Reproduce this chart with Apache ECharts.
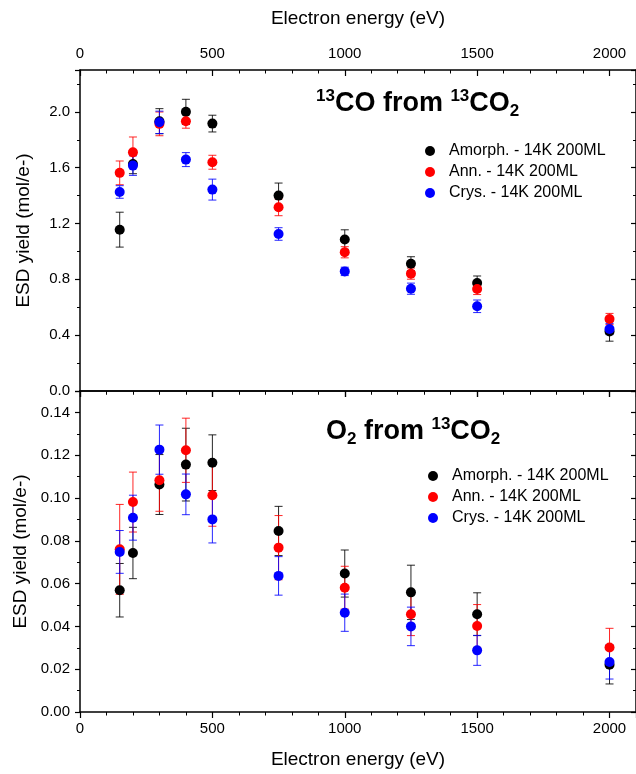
<!DOCTYPE html>
<html>
<head>
<meta charset="utf-8">
<script src="https://cdn.jsdelivr.net/npm/echarts@6/dist/echarts.min.js"></script>
<style>
  html, body { margin: 0; padding: 0; background: #fff; }
  #chart { width: 636px; height: 774px; }
</style>
</head>
<body>
<div id="chart"></div>
<script>
// Electron energies (eV)
const energies = [150, 200, 300, 400, 500, 750, 1000, 1250, 1500, 2000];

// 13CO from 13CO2 (mol/e-)
const coAmorph = [1.156, 1.627, 1.933, 2.0, 1.916, 1.40, 1.085, 0.912, 0.774, 0.427];
const coAmorphErr = [0.125, 0.07, 0.09, 0.09, 0.06, 0.09, 0.07, 0.05, 0.05, 0.07];
const coAnn = [1.563, 1.71, 1.914, 1.933, 1.639, 1.316, 0.994, 0.841, 0.731, 0.516];
const coAnnErr = [0.085, 0.11, 0.085, 0.05, 0.05, 0.06, 0.04, 0.04, 0.04, 0.04];
const coCrys = [1.426, 1.615, 1.925, 1.658, 1.443, 1.125, 0.857, 0.733, 0.607, 0.444];
const coCrysErr = [0.045, 0.07, 0.08, 0.05, 0.075, 0.045, 0.03, 0.04, 0.045, 0.04];

// O2 from 13CO2 (mol/e-)
const o2Amorph = [0.0569, 0.0743, 0.1063, 0.1156, 0.1165, 0.0846, 0.0647, 0.0559, 0.0457, 0.0221];
const o2AmorphErr = [0.0125, 0.012, 0.014, 0.017, 0.013, 0.0115, 0.011, 0.0127, 0.010, 0.009];
const o2Ann = [0.076, 0.0981, 0.1083, 0.1223, 0.1013, 0.0768, 0.0581, 0.0457, 0.0402, 0.0301];
const o2AnnErr = [0.021, 0.014, 0.0145, 0.015, 0.0145, 0.015, 0.010, 0.010, 0.010, 0.009];
const o2Crys = [0.0748, 0.0908, 0.1226, 0.1017, 0.090, 0.0636, 0.0464, 0.040, 0.0288, 0.0234];
const o2CrysErr = [0.01, 0.0105, 0.0115, 0.0095, 0.011, 0.009, 0.0087, 0.009, 0.007, 0.008];

const seriesNames = ['Amorph. - 14K 200ML', 'Ann. - 14K 200ML', 'Crys. - 14K 200ML'];
const seriesColors = ['#000000', '#ff0000', '#0000ff'];

const FONT = 'Liberation Sans, Arial, sans-serif';

const chart = echarts.init(document.getElementById('chart'));

function errorBars(gridIdx, vals, errs, color) {
    return {
        type: 'custom',
        name: 'err',
        xAxisIndex: gridIdx * 2,
        yAxisIndex: gridIdx * 2,
        z: 2,
        silent: true,
        data: energies.map((e, i) => [e, vals[i] - errs[i], vals[i] + errs[i]]),
        renderItem: (params, api) => {
            const lo = api.coord([api.value(0), api.value(1)]);
            const hi = api.coord([api.value(0), api.value(2)]);
            const w = 4;
            const style = { stroke: color, lineWidth: 1, opacity: 0.85 };
            return {
                type: 'group',
                children: [
                    { type: 'line', shape: { x1: lo[0], y1: lo[1], x2: hi[0], y2: hi[1] }, style },
                    { type: 'line', shape: { x1: lo[0] - w, y1: lo[1], x2: lo[0] + w, y2: lo[1] }, style },
                    { type: 'line', shape: { x1: hi[0] - w, y1: hi[1], x2: hi[0] + w, y2: hi[1] }, style }
                ]
            };
        }
    };
}

function points(gridIdx, vals, k) {
    return {
        type: 'scatter',
        name: seriesNames[k],
        xAxisIndex: gridIdx * 2,
        yAxisIndex: gridIdx * 2,
        z: 3,
        symbol: 'circle',
        symbolSize: 10,
        itemStyle: { color: seriesColors[k], opacity: 1 },
        data: energies.map((e, i) => [e, vals[i]])
    };
}

const axisLineStyle = { color: '#000', width: 1.5 };

function xAxisDef(gridIdx, position, showLabels, inside, name) {
    return {
        type: 'value',
        gridIndex: gridIdx,
        position: position,
        min: 0,
        max: 2100,
        interval: 500,
        name: name,
        nameLocation: 'middle',
        nameGap: position === 'top' ? 42 : 38,
        nameTextStyle: { fontFamily: FONT, fontSize: 19, color: '#000' },
        axisLine: { show: true, onZero: false, lineStyle: axisLineStyle },
        axisTick: { show: true, inside: inside, length: 6, lineStyle: { color: '#000', width: 1.2 } },
        minorTick: { show: true, splitNumber: 5, length: 3.5, lineStyle: { color: '#000', width: 1 } },
        axisLabel: {
            show: showLabels,
            showMaxLabel: false,
            margin: 9,
            fontFamily: FONT,
            fontSize: 15,
            color: '#000',
            formatter: (v) => String(v)
        },
        splitLine: { show: false }
    };
}

function yAxisDef(gridIdx, position, showLabels, inside, max, interval, digits, minorSplit) {
    return {
        type: 'value',
        gridIndex: gridIdx,
        position: position,
        min: 0,
        max: max,
        interval: interval,
        name: showLabels ? 'ESD yield (mol/e-)' : '',
        nameLocation: 'middle',
        nameGap: 47,
        nameTextStyle: { fontFamily: FONT, fontSize: 19, color: '#000' },
        axisLine: { show: true, onZero: false, lineStyle: axisLineStyle },
        axisTick: { show: true, inside: inside, length: 5, lineStyle: { color: '#000', width: 1.2 } },
        minorTick: { show: true, splitNumber: minorSplit, length: 3, lineStyle: { color: '#000', width: 1 } },
        axisLabel: {
            show: showLabels,
            showMaxLabel: false,
            margin: 10,
            fontFamily: FONT,
            fontSize: 15,
            color: '#000',
            formatter: (v) => v.toFixed(digits)
        },
        splitLine: { show: false }
    };
}

const titleRich = {
    t: { fontFamily: FONT, fontSize: 27, fontWeight: 'bold', color: '#000', lineHeight: 32 },
    sup: { fontFamily: FONT, fontSize: 17, fontWeight: 'bold', color: '#000', verticalAlign: 'top', lineHeight: 32 },
    sub: { fontFamily: FONT, fontSize: 17, fontWeight: 'bold', color: '#000', verticalAlign: 'bottom', lineHeight: 24 }
};

const legendBase = {
    orient: 'vertical',
    icon: 'circle',
    itemWidth: 10,
    itemHeight: 10,
    itemGap: 5,
    data: seriesNames,
    textStyle: { fontFamily: FONT, fontSize: 16, color: '#000', padding: [0, 0, 0, 9] }
};

const option = {
    animation: false,
    backgroundColor: '#fff',
    title: [
        {
            text: '{sup|13}{t|CO from }{sup|13}{t|CO}{sub|2}',
            left: 311,
            top: 83,
            textStyle: { rich: titleRich }
        },
        {
            text: '{t|O}{sub|2}{t| from }{sup|13}{t|CO}{sub|2}',
            left: 321,
            top: 411,
            textStyle: { rich: titleRich }
        }
    ],
    legend: [
        Object.assign({ left: 420, top: 138 }, legendBase),
        Object.assign({ left: 423, top: 463 }, legendBase)
    ],
    grid: [
        { left: 80, top: 70, width: 559, height: 321 },
        { left: 80, top: 391, width: 559, height: 321 }
    ],
    xAxis: [
        xAxisDef(0, 'top', true, true, 'Electron energy (eV)'),
        xAxisDef(0, 'bottom', false, false, ''),
        xAxisDef(1, 'top', false, true, ''),
        xAxisDef(1, 'bottom', true, false, 'Electron energy (eV)')
    ],
    yAxis: [
        yAxisDef(0, 'left', true, false, 2.3, 0.4, 1, 2),
        yAxisDef(0, 'right', false, true, 2.3, 0.4, 1, 2),
        yAxisDef(1, 'left', true, false, 0.15, 0.02, 2, 2),
        yAxisDef(1, 'right', false, true, 0.15, 0.02, 2, 2)
    ],
    series: [
        errorBars(0, coAmorph, coAmorphErr, seriesColors[0]),
        points(0, coAmorph, 0),
        errorBars(0, coAnn, coAnnErr, seriesColors[1]),
        points(0, coAnn, 1),
        errorBars(0, coCrys, coCrysErr, seriesColors[2]),
        points(0, coCrys, 2),
        errorBars(1, o2Amorph, o2AmorphErr, seriesColors[0]),
        points(1, o2Amorph, 0),
        errorBars(1, o2Ann, o2AnnErr, seriesColors[1]),
        points(1, o2Ann, 1),
        errorBars(1, o2Crys, o2CrysErr, seriesColors[2]),
        points(1, o2Crys, 2)
    ]
};

chart.setOption(option);
</script>
</body>
</html>
